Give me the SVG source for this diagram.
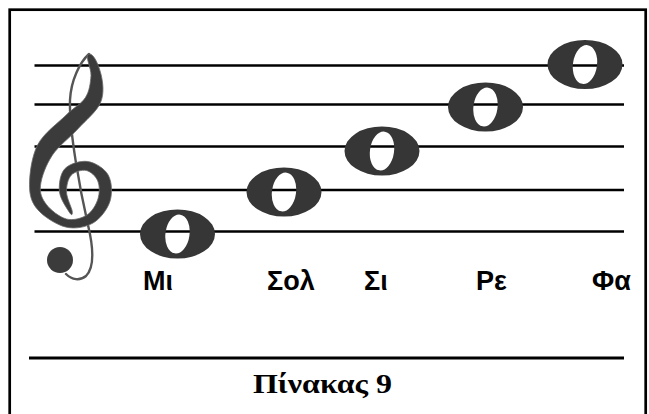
<svg xmlns="http://www.w3.org/2000/svg" width="649" height="414" viewBox="0 0 649 414">
<style>
.staff{stroke:#000;stroke-width:2.5;fill:none}
.lbl{font-family:"Liberation Sans",Arial,sans-serif;font-weight:bold;font-size:27px;fill:#000}
.cap{font-family:"Liberation Serif","Times New Roman",serif;font-weight:bold;font-size:28px;fill:#000}
.note{fill:#363636;fill-rule:evenodd}
</style>
<defs>
<path id="wn" class="note" d="M-37.5,0 A37.5,24.5 0 1,0 37.5,0 A37.5,24.5 0 1,0 -37.5,0 Z M-11.9,-1.7 A12,19.5 8 1,0 11.9,1.7 A12,19.5 8 1,0 -11.9,-1.7 Z"/>
</defs>
<rect x="9.7" y="9.7" width="636" height="420" fill="#fff" stroke="#000" stroke-width="2.7"/>
<g id="staff">
<line class="staff" x1="34.5" y1="65.5" x2="624" y2="65.5"/>
<line class="staff" x1="34.5" y1="104.5" x2="624" y2="104.5"/>
<line class="staff" x1="34.5" y1="146.5" x2="624" y2="146.5"/>
<line class="staff" x1="34.5" y1="190" x2="624" y2="190"/>
<line class="staff" x1="34.5" y1="231.5" x2="624" y2="231.5"/>
</g>
<g id="clef">
<path d="M89,54 C80,62 71,80 70,100 C69,130 80,190 88,225 C94,250 94,268 86,276 C80,281 72,280 66,274" fill="none" stroke="#555" stroke-width="2.4" stroke-linecap="round"/>
<path fill="#3b3b3b" stroke="#6a6a6a" stroke-width="0.8" d="M69.8,212.9 C67.68,209.72 60.33,199.35 59.5,192 C58.67,184.65 60.1,173.88 64.8,168.8 C69.5,163.72 80.47,160.47 87.7,161.5 C94.93,162.53 104.48,168.38 108.2,175 C111.92,181.62 112.53,193.2 110,201.2 C107.47,209.2 100.4,218.7 93,223 C85.6,227.3 74.83,229.25 65.6,227 C56.37,224.75 43.62,216.55 37.6,209.5 C31.58,202.45 29.47,195.52 29.5,184.7 C29.53,173.88 31.72,156.18 37.8,144.6 C43.88,133.02 58.07,123.03 66,115.2 C73.93,107.37 81.23,104.17 85.4,97.6 C89.57,91.03 90.4,83.07 91,75.8 C91.6,68.53 84,54.8 89,54 C94,53.2 99.07,66.23 101,74.3 C102.93,82.37 104.43,93.32 100.6,102.4 C96.77,111.48 86.07,119.97 78,128.8 C69.93,137.63 58.45,145.98 52.2,155.4 C45.95,164.82 41.47,177.12 40.5,185.3 C39.53,193.48 42.08,198.88 46.4,204.5 C50.72,210.12 59.63,217.25 66.4,219 C73.17,220.75 81.73,218.37 87,215 C92.27,211.63 96.2,204.47 98,198.8 C99.8,193.13 99.75,185.72 97.8,181 C95.85,176.28 90.73,171.47 86.3,170.5 C81.87,169.53 74.5,171.62 71.2,175.2 C67.9,178.78 66.33,186.02 66.5,192 C66.67,197.98 71.65,207.62 72.2,211.1 C72.75,214.58 71.92,216.08 69.8,212.9 Z"/>
<circle cx="60" cy="260" r="13" fill="#3b3b3b"/>
</g>
<g id="note-mi"><use href="#wn" x="177.5" y="234"/></g>
<g id="note-sol"><use href="#wn" x="284" y="192"/></g>
<g id="note-si"><use href="#wn" x="382" y="151"/></g>
<g id="note-re"><use href="#wn" x="485.5" y="107"/></g>
<g id="note-fa"><use href="#wn" x="585" y="64.5"/></g>
<g id="labels">
<text class="lbl" x="143" y="290">Μι</text>
<text class="lbl" x="267" y="290">Σολ</text>
<text class="lbl" x="364" y="290">Σι</text>
<text class="lbl" x="476" y="290">Ρε</text>
<text class="lbl" x="592" y="290">Φα</text>
</g>
<line x1="29" y1="358" x2="624" y2="358" stroke="#000" stroke-width="3"/>
<g id="caption"><text class="cap" x="253" y="393" textLength="139" lengthAdjust="spacingAndGlyphs">Πίνακας 9</text></g>
</svg>
